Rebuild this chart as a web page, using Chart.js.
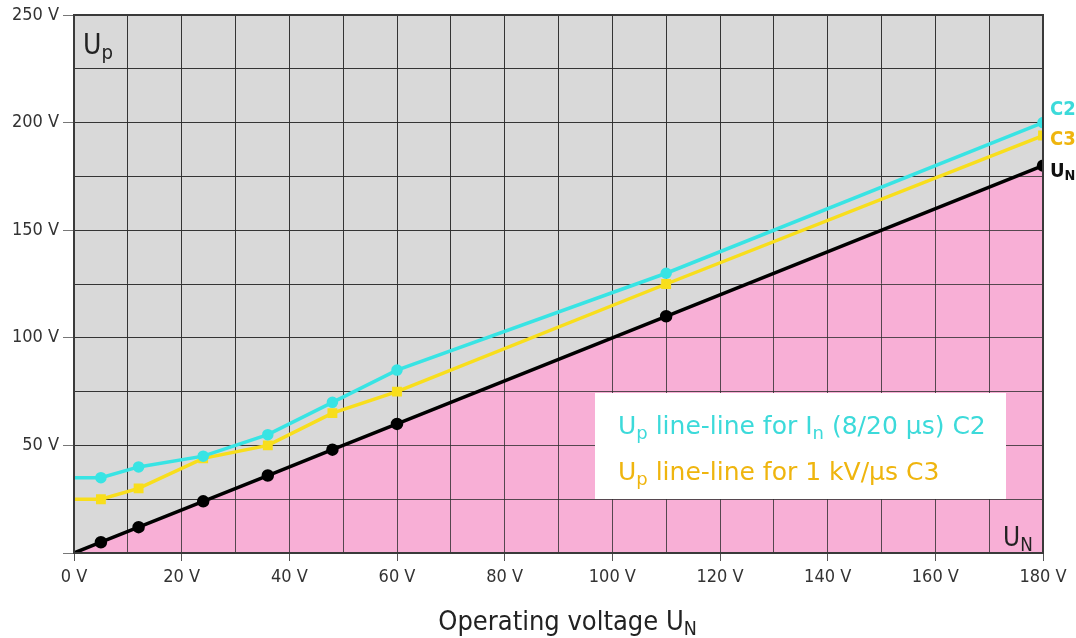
<!DOCTYPE html>
<html lang="en">
<head>
    <meta charset="UTF-8">
    <title>Up vs operating voltage</title>
    <style>
        body { margin: 0; background: #fff; }
        canvas { display: block; }
    </style>
</head>
<body>
    <canvas id="chart" width="1076" height="638"></canvas>

    <script src="https://cdn.jsdelivr.net/npm/chart.js"></script>
    <script>
        // operating voltage U_N (x) and protection level U_p (y)
        const voltages = [0, 5, 12, 24, 36, 48, 60, 110, 180];
        const unValues = [0, 5, 12, 24, 36, 48, 60, 110, 180];
        const c2Values = [35, 35, 40, 45, 55, 70, 85, 130, 200];
        const c3Values = [25, 25, 30, 44, 50, 65, 75, 125, 194];

        const xMin = 0, xMax = 180, xGridStep = 10, xLabelStep = 20;
        const yMin = 0, yMax = 250, yGridStep = 25, yLabelStep = 50;
        const unit = ' V';

        const FONT = "'Liberation Sans Narrow', 'DejaVu Sans Condensed', sans-serif";
        const WIDE_FONT = "'DejaVu Sans', sans-serif";
        const CYAN = '#38e4e4';
        const CYAN_TEXT = '#3cdada';
        const YELLOW = '#f8de1c';
        const YELLOW_TEXT = '#efb50e';
        const PINK = '#f8afd6';

        const toPoints = (ys) => voltages.map((v, i) => ({ x: v, y: ys[i] }));
        const hideFirst = (r) => (ctx) => ctx.dataIndex === 0 ? 0 : r;

        // text with subscripts, parts = [[text, isSub], ...]
        function drawRich(ctx, parts, x, y, size, color, weight, family) {
            ctx.save();
            ctx.fillStyle = color;
            ctx.textBaseline = 'alphabetic';
            ctx.textAlign = 'left';
            parts.forEach(([t, sub]) => {
                const s = sub ? size * 0.72 : size;
                ctx.font = (weight || 'normal') + ' ' + s + 'px ' + (family || FONT);
                ctx.fillText(t, x, sub ? y + size * 0.18 : y);
                x += ctx.measureText(t).width;
            });
            ctx.restore();
            return x;
        }

        const decorPlugin = {
            id: 'decor',
            beforeDraw(chart) {
                const { ctx, chartArea: a } = chart;
                ctx.save();
                ctx.fillStyle = '#d9d9d9';
                ctx.fillRect(a.left, a.top, a.right - a.left, a.bottom - a.top);
                ctx.restore();
            },
            beforeDatasetsDraw(chart) {
                // grid again, on top of the pink fill but under the lines
                chart.scales.x.drawGrid(chart.chartArea);
                chart.scales.y.drawGrid(chart.chartArea);
            },
            afterDatasetsDraw(chart) {
                const { ctx, chartArea: a, scales: { x, y } } = chart;

                // frame
                ctx.save();
                ctx.strokeStyle = '#3a3a3a';
                ctx.lineWidth = 2;
                ctx.strokeRect(a.left, a.top, a.right - a.left, a.bottom - a.top);
                ctx.restore();

                // legend box
                ctx.save();
                ctx.fillStyle = '#ffffff';
                ctx.fillRect(595, 393, 411, 106);
                ctx.restore();
                drawRich(ctx, [['U'], ['p', true], [' line-line for I'], ['n', true], [' (8/20 µs) C2']],
                    618, 434, 25, CYAN_TEXT, 'normal', WIDE_FONT);
                drawRich(ctx, [['U'], ['p', true], [' line-line for 1 kV/µs C3']],
                    618, 480, 25, YELLOW_TEXT, 'normal', WIDE_FONT);

                // axis names inside the plot
                drawRich(ctx, [['U'], ['p', true]], a.left + 9, a.top + 39, 28, '#222');
                drawRich(ctx, [['U'], ['N', true]], a.right - 40, a.bottom - 7, 26, '#222');

                // curve names at the right end
                const xr = a.right + 7;
                const last = voltages.length - 1;
                drawRich(ctx, [['C2']], xr, y.getPixelForValue(c2Values[last]) - 8, 20, CYAN_TEXT, 'bold');
                drawRich(ctx, [['C3']], xr, y.getPixelForValue(c3Values[last]) + 9, 20, YELLOW_TEXT, 'bold');
                drawRich(ctx, [['U'], ['N', true]], xr, y.getPixelForValue(unValues[last]) + 11, 20, '#111', 'bold');

                // x axis title
                ctx.save();
                ctx.font = '27px ' + FONT;
                const w = ctx.measureText('Operating voltage U').width + 14;
                ctx.restore();
                drawRich(ctx, [['Operating voltage U'], ['N', true]], 568 - w / 2, 630, 27, '#222');
            }
        };

        const gridColor = 'rgba(45,45,45,0.8)';
        const tickFont = { family: FONT, size: 18 };

        new Chart(document.getElementById('chart'), {
            type: 'line',
            data: {
                datasets: [
                    {
                        label: 'U_N',
                        data: toPoints(unValues),
                        borderColor: '#000',
                        backgroundColor: '#000',
                        borderWidth: 3.5,
                        pointRadius: hideFirst(4.5),
                        pointHoverRadius: 0,
                        fill: { target: 'origin', above: PINK },
                        order: 1
                    },
                    {
                        label: 'C2',
                        data: toPoints(c2Values),
                        borderColor: CYAN,
                        backgroundColor: CYAN,
                        borderWidth: 3.5,
                        pointRadius: hideFirst(4),
                        fill: false,
                        order: 2
                    },
                    {
                        label: 'C3',
                        data: toPoints(c3Values),
                        borderColor: YELLOW,
                        backgroundColor: YELLOW,
                        borderWidth: 3.5,
                        pointStyle: 'rect',
                        pointRadius: hideFirst(4.5),
                        fill: false,
                        order: 3
                    }
                ]
            },
            options: {
                responsive: false,
                animation: false,
                events: [],
                layout: { padding: { left: 0, right: 33, top: 15, bottom: 0 } },
                elements: { line: { tension: 0 } },
                plugins: {
                    legend: { display: false },
                    tooltip: { enabled: false },
                    filler: { drawTime: 'beforeDatasetsDraw' }
                },
                scales: {
                    x: {
                        type: 'linear',
                        min: xMin,
                        max: xMax,
                        afterFit: (s) => { s.height = 85; },
                        ticks: {
                            stepSize: xGridStep,
                            autoSkip: false,
                            maxRotation: 0,
                            padding: 6,
                            color: '#333',
                            font: tickFont,
                            callback: (v) => v % xLabelStep === 0 ? v + unit : ''
                        },
                        grid: {
                            color: gridColor,
                            lineWidth: 1,
                            tickLength: 8,
                            tickColor: (c) => c.tick && c.tick.value % xLabelStep === 0 ? '#555' : 'rgba(0,0,0,0)'
                        },
                        border: { color: '#3a3a3a', width: 2 }
                    },
                    y: {
                        type: 'linear',
                        min: yMin,
                        max: yMax,
                        afterFit: (s) => { s.width = 74; },
                        ticks: {
                            stepSize: yGridStep,
                            autoSkip: false,
                            padding: 4,
                            color: '#333',
                            font: tickFont,
                            callback: (v) => v % yLabelStep === 0 && v !== 0 ? v + unit : ''
                        },
                        grid: {
                            color: gridColor,
                            lineWidth: 1,
                            tickLength: 11,
                            tickColor: (c) => c.tick && c.tick.value % yLabelStep === 0 ? '#777' : 'rgba(0,0,0,0)'
                        },
                        border: { color: '#3a3a3a', width: 2 }
                    }
                }
            },
            plugins: [decorPlugin]
        });
    </script>
</body>
</html>
